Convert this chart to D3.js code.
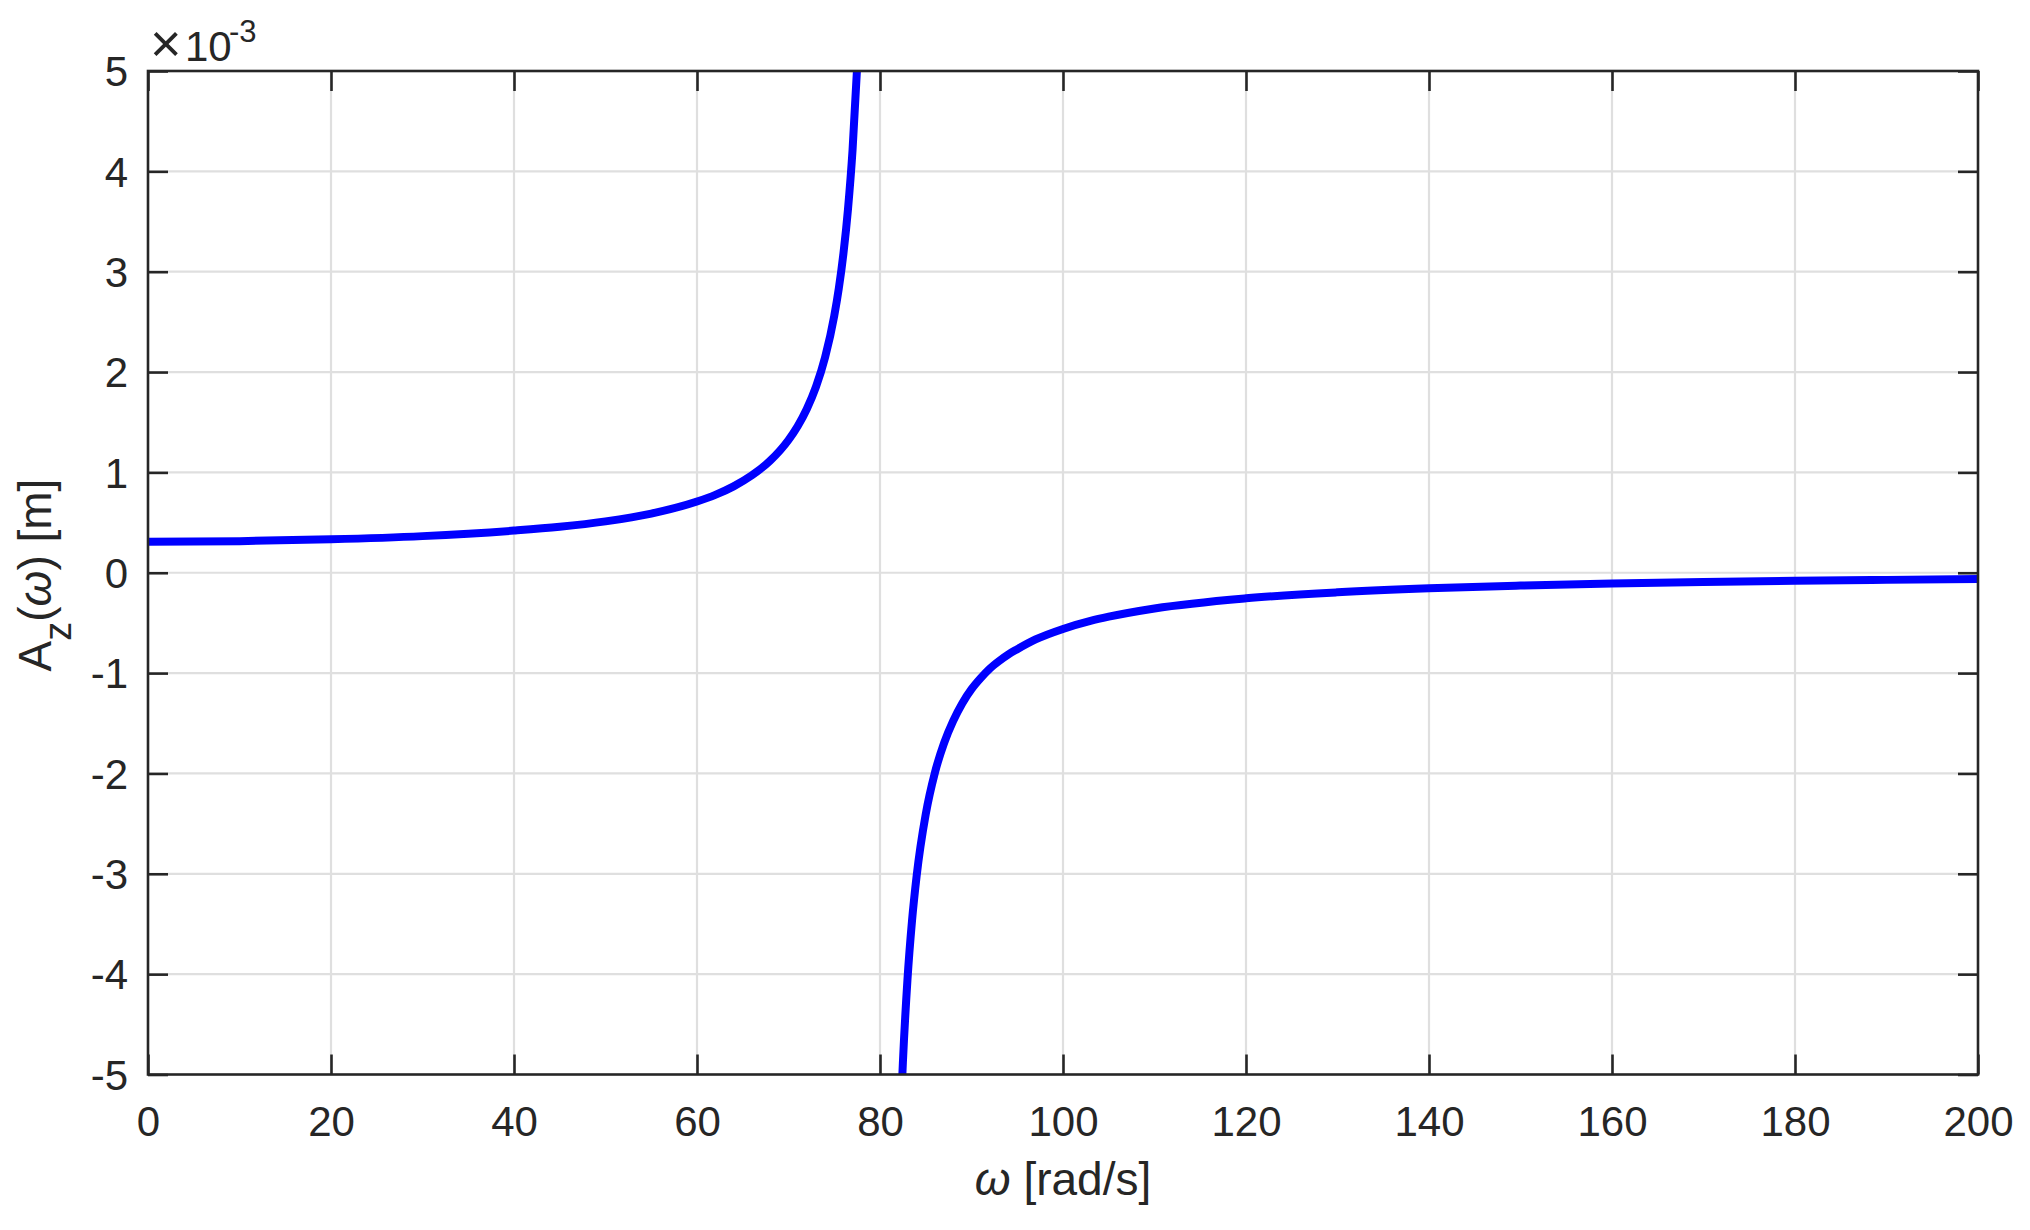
<!DOCTYPE html>
<html>
<head>
<meta charset="utf-8">
<script src="https://cdn.jsdelivr.net/npm/d3@7"></script>
<style>
  body { margin: 0; background: #fff; }
  text { font-family: "Liberation Sans", Arial, sans-serif; fill: #262626; }
</style>
</head>
<body>
<svg id="viz"></svg>
<script>
// Resposta em frequência A_z(ω) (×10^-3 m)
const omega = [0, 10, 20, 30, 40, 45, 50, 55, 60, 62, 64, 66, 68, 70, 71, 72, 73, 74, 75, 75.5, 76, 76.5, 77, 77.5,
  80,
  82.4, 82.5, 83, 83.5, 84, 85, 86, 87, 88, 89, 90, 91, 92, 93, 94, 95, 97, 100, 103, 105, 110, 120, 130, 140, 150, 160, 170, 180, 190, 200];
const amp = [0.31, 0.315, 0.333, 0.365, 0.42, 0.458, 0.512, 0.59, 0.71, 0.776, 0.861, 0.971, 1.117, 1.323, 1.46, 1.632, 1.852, 2.147, 2.56, 2.835, 3.179, 3.622, 4.212, 5.039,
  null,
  -5.09, -4.884, -4.057, -3.467, -3.024, -2.405, -1.992, -1.697, -1.476, -1.30, -1.16, -1.05, -0.955, -0.88, -0.815, -0.762, -0.665, -0.56, -0.48, -0.438, -0.356, -0.255, -0.195, -0.155, -0.128, -0.107, -0.092, -0.08, -0.071, -0.063];

const xTicks = [0, 20, 40, 60, 80, 100, 120, 140, 160, 180, 200];
const yTicks = [-5, -4, -3, -2, -1, 0, 1, 2, 3, 4, 5];

const width = 2030;
const height = 1230;
const box = { left: 148, right: 1978, top: 71, bottom: 1074.5 };
const ink = '#262626';
const tickLen = 20;

const svg = d3.select('#viz').attr('width', width).attr('height', height);

const x = d3.scaleLinear().domain([0, 200]).range([box.left, box.right]);
const y = d3.scaleLinear().domain([-5, 5]).range([box.bottom, box.top]);

// Grade
const grid = svg.append('g').attr('stroke', '#dfdfdf').attr('stroke-width', 2.2);
grid.selectAll('.gx').data(xTicks.slice(1, -1)).enter().append('line')
  .attr('x1', d => x(d)).attr('x2', d => x(d))
  .attr('y1', box.top).attr('y2', box.bottom);
grid.selectAll('.gy').data(yTicks.slice(1, -1)).enter().append('line')
  .attr('y1', d => y(d)).attr('y2', d => y(d))
  .attr('x1', box.left).attr('x2', box.right);

// Curva
svg.append('clipPath').attr('id', 'clip')
  .append('rect')
  .attr('x', box.left).attr('y', box.top)
  .attr('width', box.right - box.left).attr('height', box.bottom - box.top);

const data = omega.map((w, i) => ({ w: w, v: amp[i] }));
const line = d3.line()
  .defined(d => d.v !== null)
  .x(d => x(d.w))
  .y(d => y(d.v))
  .curve(d3.curveMonotoneX);

svg.append('path')
  .datum(data)
  .attr('clip-path', 'url(#clip)')
  .attr('fill', 'none')
  .attr('stroke', '#0000ff')
  .attr('stroke-width', 8)
  .attr('d', line);

// Eixos (caixa com ticks para dentro)
const fmt = d => String(d);
const axB = d3.axisBottom(x).tickValues(xTicks).tickSizeInner(-tickLen).tickSizeOuter(0).tickFormat(fmt);
const axT = d3.axisTop(x).tickValues(xTicks).tickSizeInner(-tickLen).tickSizeOuter(0).tickFormat('');
const axL = d3.axisLeft(y).tickValues(yTicks).tickSizeInner(-tickLen).tickSizeOuter(0).tickFormat(fmt);
const axR = d3.axisRight(y).tickValues(yTicks).tickSizeInner(-tickLen).tickSizeOuter(0).tickFormat('');

function styleAxis(g) {
  g.select('.domain').remove();
  g.selectAll('.tick line').attr('stroke', ink).attr('stroke-width', 2.6);
  g.selectAll('.tick text')
    .style('font-family', '"Liberation Sans", Arial, sans-serif')
    .style('font-size', '42px')
    .attr('fill', ink);
}

svg.append('g').attr('transform', `translate(0,${box.bottom})`).call(axB).call(styleAxis)
  .selectAll('.tick text').attr('dy', null).attr('y', 61);
svg.append('g').attr('transform', `translate(0,${box.top})`).call(axT).call(styleAxis);
svg.append('g').attr('transform', `translate(${box.left},0)`).call(axL).call(styleAxis)
  .selectAll('.tick text').attr('x', -20).attr('dy', '0.35em');
svg.append('g').attr('transform', `translate(${box.right},0)`).call(axR).call(styleAxis);

svg.append('rect')
  .attr('x', box.left).attr('y', box.top)
  .attr('width', box.right - box.left).attr('height', box.bottom - box.top)
  .attr('fill', 'none').attr('stroke', ink).attr('stroke-width', 2.6);

// Multiplicador do eixo y
const expo = svg.append('text').attr('y', 61).style('font-size', '42px');
expo.append('tspan').attr('x', 150).attr('y', 62).style('font-size', '54px').text('×');
expo.append('tspan').attr('x', 185).attr('y', 61).text('10');
expo.append('tspan').attr('x', 229).attr('y', 42).style('font-size', '31px').text('-3');

// Rótulos dos eixos
const xl = svg.append('text')
  .attr('x', (box.left + box.right) / 2).attr('y', 1195)
  .attr('text-anchor', 'middle').style('font-size', '46px');
xl.append('tspan').style('font-style', 'italic').text('ω');
xl.append('tspan').text(' [rad/s]');

const yl = svg.append('text')
  .attr('transform', 'translate(51,575) rotate(-90)')
  .attr('text-anchor', 'middle').style('font-size', '46px');
yl.append('tspan').text('A');
yl.append('tspan').attr('dy', 20).style('font-size', '38px').text('z');
yl.append('tspan').attr('dy', -20).text('(');
yl.append('tspan').style('font-style', 'italic').text('ω');
yl.append('tspan').text(') [m]');
</script>
</body>
</html>
